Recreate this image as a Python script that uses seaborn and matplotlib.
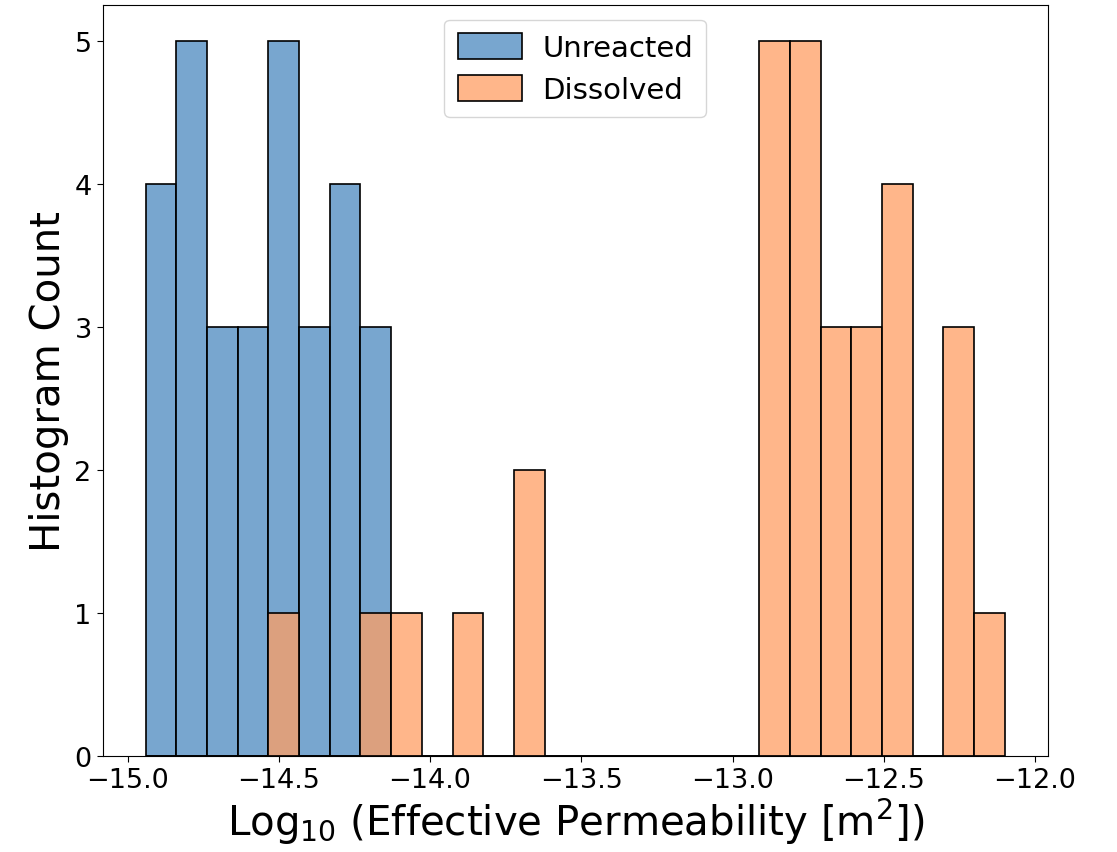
import numpy as np
import pandas as pd
import matplotlib
matplotlib.use("Agg")
import matplotlib.pyplot as plt
import seaborn as sns

# Shared histogram bins (log10 permeability, m^2)
bin_lo = -14.94
bin_hi = -12.10
n_bins = 28

# Counts per bin for each sample state
unreacted_counts = [4, 5, 3, 3, 5, 3, 4, 3, 0, 0, 0, 0, 0, 0,
                    0, 0, 0, 0, 0, 0, 0, 0, 0, 0, 0, 0, 0, 0]
dissolved_counts = [0, 0, 0, 0, 1, 0, 0, 1, 1, 0, 1, 0, 2, 0,
                    0, 0, 0, 0, 0, 0, 5, 5, 3, 3, 4, 0, 3, 1]
labels = ["Unreacted", "Dissolved"]
colors = ["#4b88bf", "#ff9e63"]

edges = np.linspace(bin_lo, bin_hi, n_bins + 1)
centers = 0.5 * (edges[:-1] + edges[1:])

fig, ax = plt.subplots(figsize=(11.17, 8.53), dpi=100)
fig.subplots_adjust(left=0.092, right=0.938, top=0.993, bottom=0.113)

# Unreacted first, dissolved layered on top
for counts, label, color in zip([unreacted_counts, dissolved_counts], labels, colors):
    df = pd.DataFrame({"logk": centers, "count": np.asarray(counts, dtype=float)})
    sns.histplot(data=df, x="logk", weights="count",
                 bins=n_bins, binrange=(bin_lo, bin_hi),
                 color=color, alpha=0.75, edgecolor="black", linewidth=1.2,
                 label=label, ax=ax)

ax.set_xticks(np.arange(-15.0, -11.99, 0.5))
ax.set_yticks(range(0, 6))
ax.tick_params(labelsize=19.5, length=4.5)
ax.set_xlabel(r"Log$_{10}$ (Effective Permeability [m$^2$])", fontsize=29,
              labelpad=2)
ax.set_ylabel("Histogram Count", fontsize=29, labelpad=4)

ax.legend(loc="upper center", fontsize=21, handlelength=2.2, handleheight=1.0,
          handletextpad=0.7, borderpad=0.45, labelspacing=0.45)

fig.savefig("out.png", dpi=100)
